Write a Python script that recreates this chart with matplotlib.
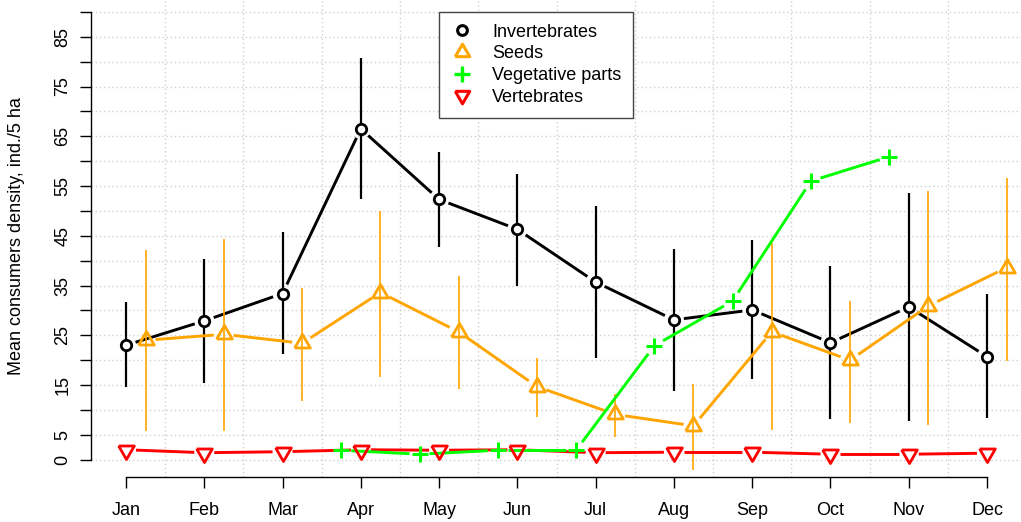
import matplotlib
matplotlib.use("Agg")
import matplotlib.pyplot as plt
import numpy as np
from matplotlib.lines import Line2D

plt.rcParams['font.family'] = ['Liberation Sans', 'DejaVu Sans']

months = ["Jan", "Feb", "Mar", "Apr", "May", "Jun", "Jul", "Aug", "Sep", "Oct", "Nov", "Dec"]
month_pos = np.arange(1, 13)

# Invertebrates (mean, lower, upper)
inv_mean = [23.0, 27.9, 33.4, 66.5, 52.3, 46.3, 35.7, 28.1, 30.1, 23.5, 30.7, 20.7]
inv_lo = [14.7, 15.5, 21.2, 52.3, 42.8, 35.0, 20.4, 13.8, 16.2, 8.1, 7.8, 8.3]
inv_hi = [31.6, 40.3, 45.7, 80.7, 61.9, 57.4, 51.0, 42.4, 44.1, 38.9, 53.7, 33.2]

# Seeds
seed_mean = [24.0, 25.2, 23.4, 33.6, 25.7, 14.7, 9.1, 6.8, 25.7, 20.0, 30.9, 38.6]
seed_lo = [5.8, 5.8, 11.7, 16.7, 14.3, 8.6, 4.6, -2.1, 6.0, 7.4, 7.0, 19.8]
seed_hi = [42.1, 44.4, 34.6, 50.0, 36.9, 20.4, 13.3, 15.2, 43.5, 31.9, 54.0, 56.6]

# Vegetative parts (Apr - Nov only)
veg_months = [4, 5, 6, 7, 8, 9, 10, 11]
veg_mean = [1.9, 1.1, 1.9, 1.9, 22.9, 31.9, 56.0, 60.9]

# Vertebrates
vert_mean = [2.0, 1.4, 1.6, 2.0, 1.9, 2.0, 1.4, 1.5, 1.5, 1.1, 1.1, 1.3]

W, H = 1021, 522
FS = 13
fig = plt.figure(figsize=(W / 100, H / 100), dpi=100)
ax = fig.add_axes([91 / W, (H - 477) / H, (W - 91) / W, 477 / H])
ax.set_xlim(0.553, 12.434)
ax.set_ylim(-3.48, 92.39)

# dotted grid
for gx in np.arange(1.5, 12.5, 1):
    ax.axvline(gx, color='#cfcfcf', lw=1, ls=(0, (1, 2)), zorder=0)
for gy in range(0, 95, 5):
    ax.axhline(gy, color='#cfcfcf', lw=1, ls=(0, (1, 2)), zorder=0)

tri_up = [(-1, -0.577), (1, -0.577), (0, 1.155), (-1, -0.577)]
tri_down = [(x, -y) for x, y in tri_up]


def gapped_line(x, y, color, gap=10, lw=2.1, z=2):
    # R type="b": segments stop short of the points
    pts = ax.transData.transform(np.column_stack([x, y]))
    inv = ax.transData.inverted()
    for p0, p1 in zip(pts[:-1], pts[1:]):
        d = p1 - p0
        L = np.hypot(d[0], d[1])
        if L <= 2 * gap:
            continue
        u = d / L
        a = inv.transform(p0 + u * gap)
        b = inv.transform(p1 - u * gap)
        ax.plot([a[0], b[0]], [a[1], b[1]], color=color, lw=lw,
                solid_capstyle='butt', zorder=z)


# Invertebrates
x_inv = month_pos
ax.vlines(x_inv, inv_lo, inv_hi, color='black', lw=1.6, zorder=2)
gapped_line(x_inv, inv_mean, 'black')
ax.plot(x_inv, inv_mean, ls='none', marker='o', ms=7.5, mew=2,
        mec='black', mfc='white', zorder=3)

# Seeds
x_seed = month_pos + 0.25
ax.vlines(x_seed, seed_lo, seed_hi, color='orange', lw=1.2, zorder=2)
gapped_line(x_seed, seed_mean, 'orange')
ax.plot(x_seed, seed_mean, ls='none', marker=tri_up, ms=13, mew=2,
        mec='orange', mfc='none', zorder=3)

# Vertebrates
x_vert = month_pos
gapped_line(x_vert, vert_mean, 'red')
ax.plot(x_vert, vert_mean, ls='none', marker=tri_down, ms=13, mew=2,
        mec='red', mfc='none', zorder=3)

# Vegetative parts
x_veg = np.array(veg_months) - 0.25
gapped_line(x_veg, veg_mean, '#00ff00')
ax.plot(x_veg, veg_mean, ls='none', marker='+', ms=12, mew=2.2,
        mec='#00ff00', zorder=4)

# axes in R style
for s in ['top', 'right']:
    ax.spines[s].set_visible(False)
ax.spines['left'].set_bounds(0, 90)
ax.spines['bottom'].set_bounds(1, 12)
ax.spines['left'].set_linewidth(1)
ax.spines['bottom'].set_linewidth(1)

ax.set_xticks(month_pos)
ax.set_xticklabels(months)
yt = list(range(0, 95, 5))
ax.set_yticks(yt)
ax.set_yticklabels([str(v) if (v == 0 or v % 10 == 5) and v <= 85 else '' for v in yt],
                   rotation=90, va='center')
ax.tick_params(axis='both', length=8, width=1, labelsize=FS)
ax.tick_params(axis='x', pad=10)
ax.tick_params(axis='y', pad=6)

fig.text(16.5 / W, 1 - 236 / H, "Mean consumers density, ind./5 ha",
         rotation=90, ha='center', va='center', fontsize=FS)

handles = [
    Line2D([], [], ls='none', marker='o', ms=7, mew=2.2, mec='black', mfc='none'),
    Line2D([], [], ls='none', marker=tri_up, ms=12, mew=2.2, mec='orange', mfc='none'),
    Line2D([], [], ls='none', marker='+', ms=12, mew=2.4, mec='#00ff00'),
    Line2D([], [], ls='none', marker=tri_down, ms=12, mew=2.2, mec='red', mfc='none'),
]
labels = ["Invertebrates", "Seeds", "Vegetative parts", "Vertebrates"]
leg = ax.legend(handles, labels, loc='upper left',
                bbox_to_anchor=(439 / W, 1 - 12 / H), bbox_transform=fig.transFigure,
                borderaxespad=0, fontsize=FS, frameon=True, fancybox=False,
                edgecolor='#444444', framealpha=1, handlelength=1.27,
                handletextpad=1.03, labelspacing=0.26, borderpad=0.65)
leg.get_frame().set_linewidth(1)

fig.savefig("out.png", dpi=100)
